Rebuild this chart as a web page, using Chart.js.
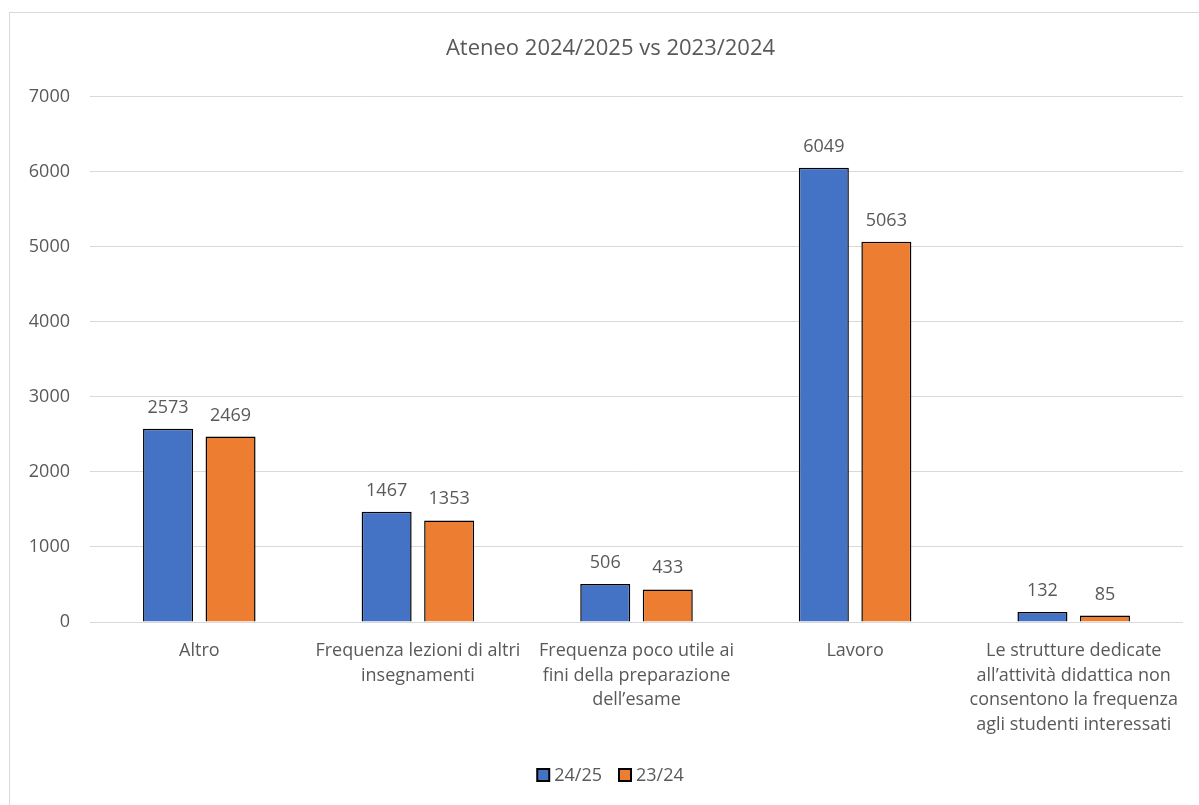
<!DOCTYPE html>
<html>
<head>
<meta charset="utf-8">
<script src="https://cdn.jsdelivr.net/npm/chart.js@4.4.1/dist/chart.umd.min.js"></script>
<style>
html,body{margin:0;padding:0;background:#fff;overflow:hidden;}
#frame{position:absolute;left:9px;top:12px;width:1300px;height:900px;border-left:1px solid #d9d9d9;border-top:1px solid #d9d9d9;}
#wrap{position:absolute;left:0;top:0;width:1199px;height:805px;overflow:hidden;}
</style>
</head>
<body>
<div id="frame"></div>
<div id="wrap"><canvas id="c" width="1222" height="805"></canvas></div>
<script>
const categories = [
  "Altro",
  ["Frequenza lezioni di altri", "insegnamenti"],
  ["Frequenza poco utile ai", "fini della preparazione", "dell\u2019esame"],
  "Lavoro",
  ["Le strutture dedicate", "all\u2019attività didattica non", "consentono la frequenza", "agli studenti interessati"]
];
const series2425 = [2573, 1467, 506, 6049, 132];
const series2324 = [2469, 1353, 433, 5063, 85];
const seriesNames = ["24/25", "23/24"];
const chartTitle = "Ateneo 2024/2025 vs 2023/2024";

const FONT = "'Open Sans', 'Noto Sans', sans-serif";
const TXT = "#595959";

const dataLabels = {
  id: 'dataLabels',
  afterDatasetsDraw(chart) {
    const ctx = chart.ctx;
    ctx.save();
    ctx.font = "18px " + FONT;
    ctx.fillStyle = TXT;
    ctx.textAlign = 'center';
    ctx.textBaseline = 'alphabetic';
    chart.data.datasets.forEach((ds, i) => {
      const meta = chart.getDatasetMeta(i);
      meta.data.forEach((el, j) => {
        ctx.fillText(String(ds.data[j]), el.x, el.y - 16);
      });
    });
    ctx.restore();
  }
};

const bottomLegend = {
  id: 'bottomLegend',
  afterDraw(chart) {
    const ctx = chart.ctx;
    const tb = chart.titleBlock;
    const cx = (tb.left + tb.right) / 2;
    const cy = chart.height - 30;
    const box = 12, gap = 5, itemGap = 17;
    ctx.save();
    ctx.font = "18px " + FONT;
    const items = chart.data.datasets.map(ds => ({ text: ds.label, color: ds.backgroundColor, w: ctx.measureText(ds.label).width }));
    let total = 0;
    items.forEach((it, i) => { total += box + gap + it.w + (i < items.length - 1 ? itemGap : 0); });
    let x = cx - total / 2;
    ctx.textBaseline = 'middle';
    ctx.textAlign = 'left';
    items.forEach(it => {
      ctx.fillStyle = it.color;
      ctx.fillRect(x, cy - box / 2, box, box);
      ctx.strokeStyle = '#000';
      ctx.lineWidth = 2;
      ctx.strokeRect(x, cy - box / 2, box, box);
      ctx.fillStyle = TXT;
      ctx.fillText(it.text, x + box + gap, cy + 1);
      x += box + gap + it.w + itemGap;
    });
    ctx.restore();
  }
};

new Chart(document.getElementById('c'), {
  type: 'bar',
  data: {
    labels: categories,
    datasets: [
      { label: seriesNames[0], data: series2425, backgroundColor: '#4472C4', borderColor: '#000000', borderWidth: 1.5,
        barPercentage: 0.8, categoryPercentage: 0.572 },
      { label: seriesNames[1], data: series2324, backgroundColor: '#ED7D31', borderColor: '#000000', borderWidth: 1.5,
        barPercentage: 0.8, categoryPercentage: 0.572 }
    ]
  },
  options: {
    responsive: false,
    animation: false,
    layout: { padding: { left: 10, right: 11, top: 36, bottom: 51 } },
    plugins: {
      title: { display: true, text: chartTitle, color: TXT, font: { family: FONT, size: 22, weight: 'normal' }, padding: { top: 0, bottom: 34 } },
      legend: { display: false },
      tooltip: { enabled: false }
    },
    scales: {
      x: {
        grid: { display: false },
        border: { display: false },
        ticks: { color: TXT, font: { family: FONT, size: 18, lineHeight: 1.36 }, maxRotation: 0, minRotation: 0, autoSkip: false, padding: 9 },
        afterFit(scale) { scale.height = 132; }
      },
      y: {
        min: 0, max: 7000,
        grid: { color: '#d9d9d9', lineWidth: 1, drawTicks: false },
        border: { display: false },
        ticks: { stepSize: 1000, color: TXT, font: { family: FONT, size: 18 }, padding: 20, callback: v => String(v) },
        afterFit(scale) { scale.width = 80; }
      },
      spacer: {
        type: 'linear', position: 'right', display: true,
        grid: { display: false }, border: { display: false },
        ticks: { display: false },
        afterFit(scale) { scale.width = 28; }
      }
    }
  },
  plugins: [dataLabels, bottomLegend]
});
</script>
</body>
</html>
